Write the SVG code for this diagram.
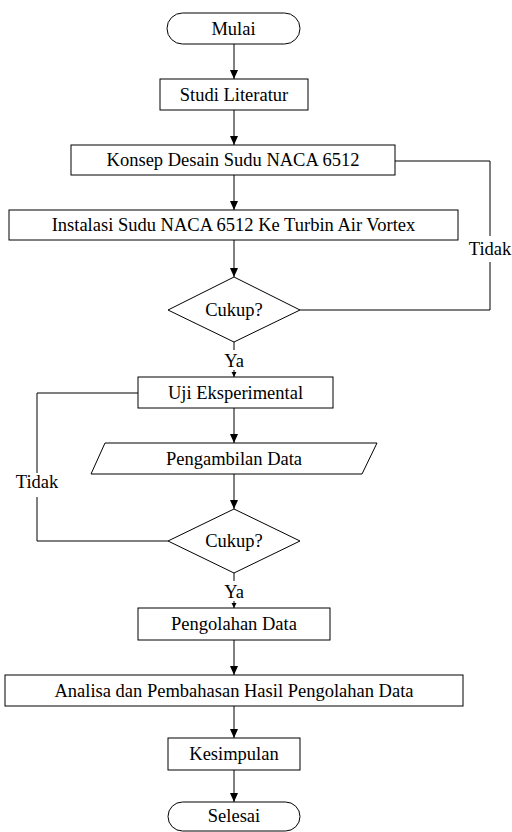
<svg xmlns="http://www.w3.org/2000/svg" width="512" height="832" viewBox="0 0 512 832">
<defs>
<style>
.s{fill:#fff;stroke:#000;stroke-width:1}
.t{font-family:'Liberation Serif','Times New Roman','DejaVu Serif',serif;font-size:18.5px;fill:#000;text-anchor:middle}
.c{fill:none;stroke:#000;stroke-width:1}
</style>
<marker id="ah" markerWidth="10" markerHeight="10" refX="9" refY="4" orient="auto" markerUnits="userSpaceOnUse">
<path d="M0,0 L9,4 L0,8 Z" fill="#000"/>
</marker>
<marker id="ahs" markerWidth="6" markerHeight="6" refX="5" refY="2.5" orient="auto" markerUnits="userSpaceOnUse">
<path d="M0,0 L5,2.5 L0,5 Z" fill="#000"/>
</marker>
</defs>
<rect width="512" height="832" fill="#fff"/>
<g id="connectors">
<line class="c" x1="234" y1="44" x2="234" y2="79" marker-end="url(#ah)"/>
<line class="c" x1="234" y1="110" x2="234" y2="145" marker-end="url(#ah)"/>
<line class="c" x1="234" y1="175" x2="234" y2="210" marker-end="url(#ah)"/>
<line class="c" x1="234" y1="240" x2="234" y2="277" marker-end="url(#ah)"/>
<polyline class="c" points="300,310 490,310 490,262"/>
<polyline class="c" points="490,236 490,161 395,161"/>
<line class="c" x1="234" y1="342" x2="234" y2="377" marker-end="url(#ahs)"/>
<line class="c" x1="234" y1="408" x2="234" y2="443" marker-end="url(#ah)"/>
<line class="c" x1="234" y1="474" x2="234" y2="509" marker-end="url(#ah)"/>
<polyline class="c" points="168,541 37,541 37,497"/>
<polyline class="c" points="37,473 37,393 138,393"/>
<line class="c" x1="234" y1="573" x2="234" y2="608" marker-end="url(#ahs)"/>
<line class="c" x1="234" y1="640" x2="234" y2="675" marker-end="url(#ah)"/>
<line class="c" x1="234" y1="706" x2="234" y2="738" marker-end="url(#ah)"/>
<line class="c" x1="234" y1="770" x2="234" y2="802" marker-end="url(#ah)"/>
<rect x="224" y="350" width="20" height="20" fill="#fff"/>
<text class="t" x="234" y="367">Ya</text>
<rect x="224" y="581" width="20" height="20" fill="#fff"/>
<text class="t" x="234" y="598">Ya</text>
<text class="t" x="490" y="255">Tidak</text>
<text class="t" x="37" y="488">Tidak</text>
</g>
<g id="mulai"><rect class="s" x="167" y="13" width="133" height="31" rx="15.5"/><text class="t" x="233.5" y="34.5">Mulai</text></g>
<g id="studi"><rect class="s" x="160" y="79" width="148" height="31"/><text class="t" x="234" y="100.5">Studi Literatur</text></g>
<g id="konsep"><rect class="s" x="71" y="145" width="324" height="30"/><text class="t" x="233" y="166">Konsep Desain Sudu NACA 6512</text></g>
<g id="instalasi"><rect class="s" x="9" y="210" width="449" height="30"/><text class="t" x="233.5" y="231">Instalasi Sudu NACA 6512 Ke Turbin Air Vortex</text></g>
<g id="cukup1"><polygon class="s" points="234,277 300,310 234,342 168,310"/><text class="t" x="234" y="316">Cukup?</text></g>
<g id="uji"><rect class="s" x="138" y="377" width="195" height="31"/><text class="t" x="235.5" y="398.5">Uji Eksperimental</text></g>
<g id="pengambilan"><polygon class="s" points="105,443 377,443 362,474 91,474"/><text class="t" x="234" y="464.5">Pengambilan Data</text></g>
<g id="cukup2"><polygon class="s" points="234,509 300,541 234,573 168,541"/><text class="t" x="234" y="547">Cukup?</text></g>
<g id="pengolahan"><rect class="s" x="138" y="608" width="192" height="32"/><text class="t" x="234" y="630">Pengolahan Data</text></g>
<g id="analisa"><rect class="s" x="5" y="675" width="458" height="31"/><text class="t" x="234" y="696.5">Analisa dan Pembahasan Hasil Pengolahan Data</text></g>
<g id="kesimpulan"><rect class="s" x="168" y="738" width="132" height="32"/><text class="t" x="234" y="760">Kesimpulan</text></g>
<g id="selesai"><rect class="s" x="168" y="802" width="132" height="29" rx="14.5"/><text class="t" x="234" y="822">Selesai</text></g>
</svg>
